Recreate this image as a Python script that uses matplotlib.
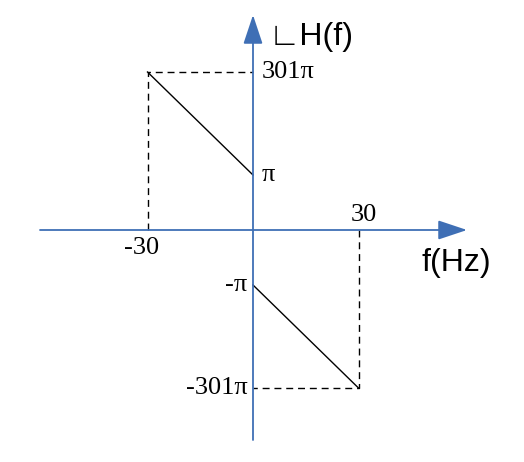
import numpy as np
import matplotlib.pyplot as plt

# phase of H(f), in units of pi, at the band edges
freqs_neg = [-30, 0]
phase_neg = [301, 1]
freqs_pos = [0, 30]
phase_pos = [-1, -301]
y_ticks = [301, 1, -1, -301]
y_tick_labels = ['301π', 'π', '-π', '-301π']
x_ticks = [-30, 30]
x_tick_labels = ['-30', '30']

BLUE = '#3f6fb5'

# schematic (non-linear) vertical scale: small values get stretched
knots_v = [-901, -301, -1, 0, 1, 301, 901]
knots_p = [-364, -158, -55, 0, 55, 158, 364]


def fwd(v):
    return np.interp(v, knots_v, knots_p)


def inv(p):
    return np.interp(p, knots_p, knots_v)


fig = plt.figure(figsize=(5.24, 4.62), dpi=100)
ax = fig.add_axes([0, 0, 1, 1])
ax.set_yscale('function', functions=(fwd, inv))
px = 30 / 105.5
ax.set_xlim(-253 * px, (524 - 253) * px)
ax.set_ylim(inv(-232), inv(230))
ax.axis('off')

# axes with arrows
ax.annotate('', xy=(214 * px, 0), xytext=(-213 * px, 0),
            arrowprops=dict(arrowstyle='-|>,head_length=1.2,head_width=0.4', mutation_scale=15,
                            color=BLUE, lw=1.3, shrinkA=0, shrinkB=0))
ax.annotate('', xy=(0, inv(215)), xytext=(0, inv(-210)),
            arrowprops=dict(arrowstyle='-|>,head_length=1.2,head_width=0.4', mutation_scale=15,
                            color=BLUE, lw=1.3, shrinkA=0, shrinkB=0))

# phase lines
ax.plot(freqs_neg, phase_neg, color='black', lw=1)
ax.plot(freqs_pos, phase_pos, color='black', lw=1)

# dashed guides
ax.plot([-30, -30, 0], [0, 301, 301], color='black', lw=1, ls=(0, (5, 3.5)))
ax.plot([30, 30, 0], [0, -301, -301], color='black', lw=1, ls=(0, (5, 3.5)))

serif = 'Liberation Serif'
sans = 'Liberation Sans'
for v, lab in zip(y_ticks, y_tick_labels):
    if v > 0:
        ax.annotate(lab, (0, v), xytext=(6, 0), textcoords='offset points',
                    ha='left', va='center', fontsize=19, family=serif)
    else:
        ax.annotate(lab, (0, v), xytext=(-4, 0), textcoords='offset points',
                    ha='right', va='center', fontsize=19, family=serif)

ax.annotate(x_tick_labels[0], (x_ticks[0], 0), xytext=(-4, -13), textcoords='offset points',
            ha='center', va='center', fontsize=19, family=serif)
ax.annotate(x_tick_labels[1], (x_ticks[1], 0), xytext=(4, 11), textcoords='offset points',
            ha='center', va='center', fontsize=19, family=serif)

ax.text(16 * px, inv(193), '∟H(f)', ha='left', va='center', fontsize=23,
        family=[sans, 'DejaVu Sans'])
ax.text(169 * px, inv(-33), 'f(Hz)', ha='left', va='center', fontsize=23, family=sans)

fig.savefig('out.png', dpi=100)
